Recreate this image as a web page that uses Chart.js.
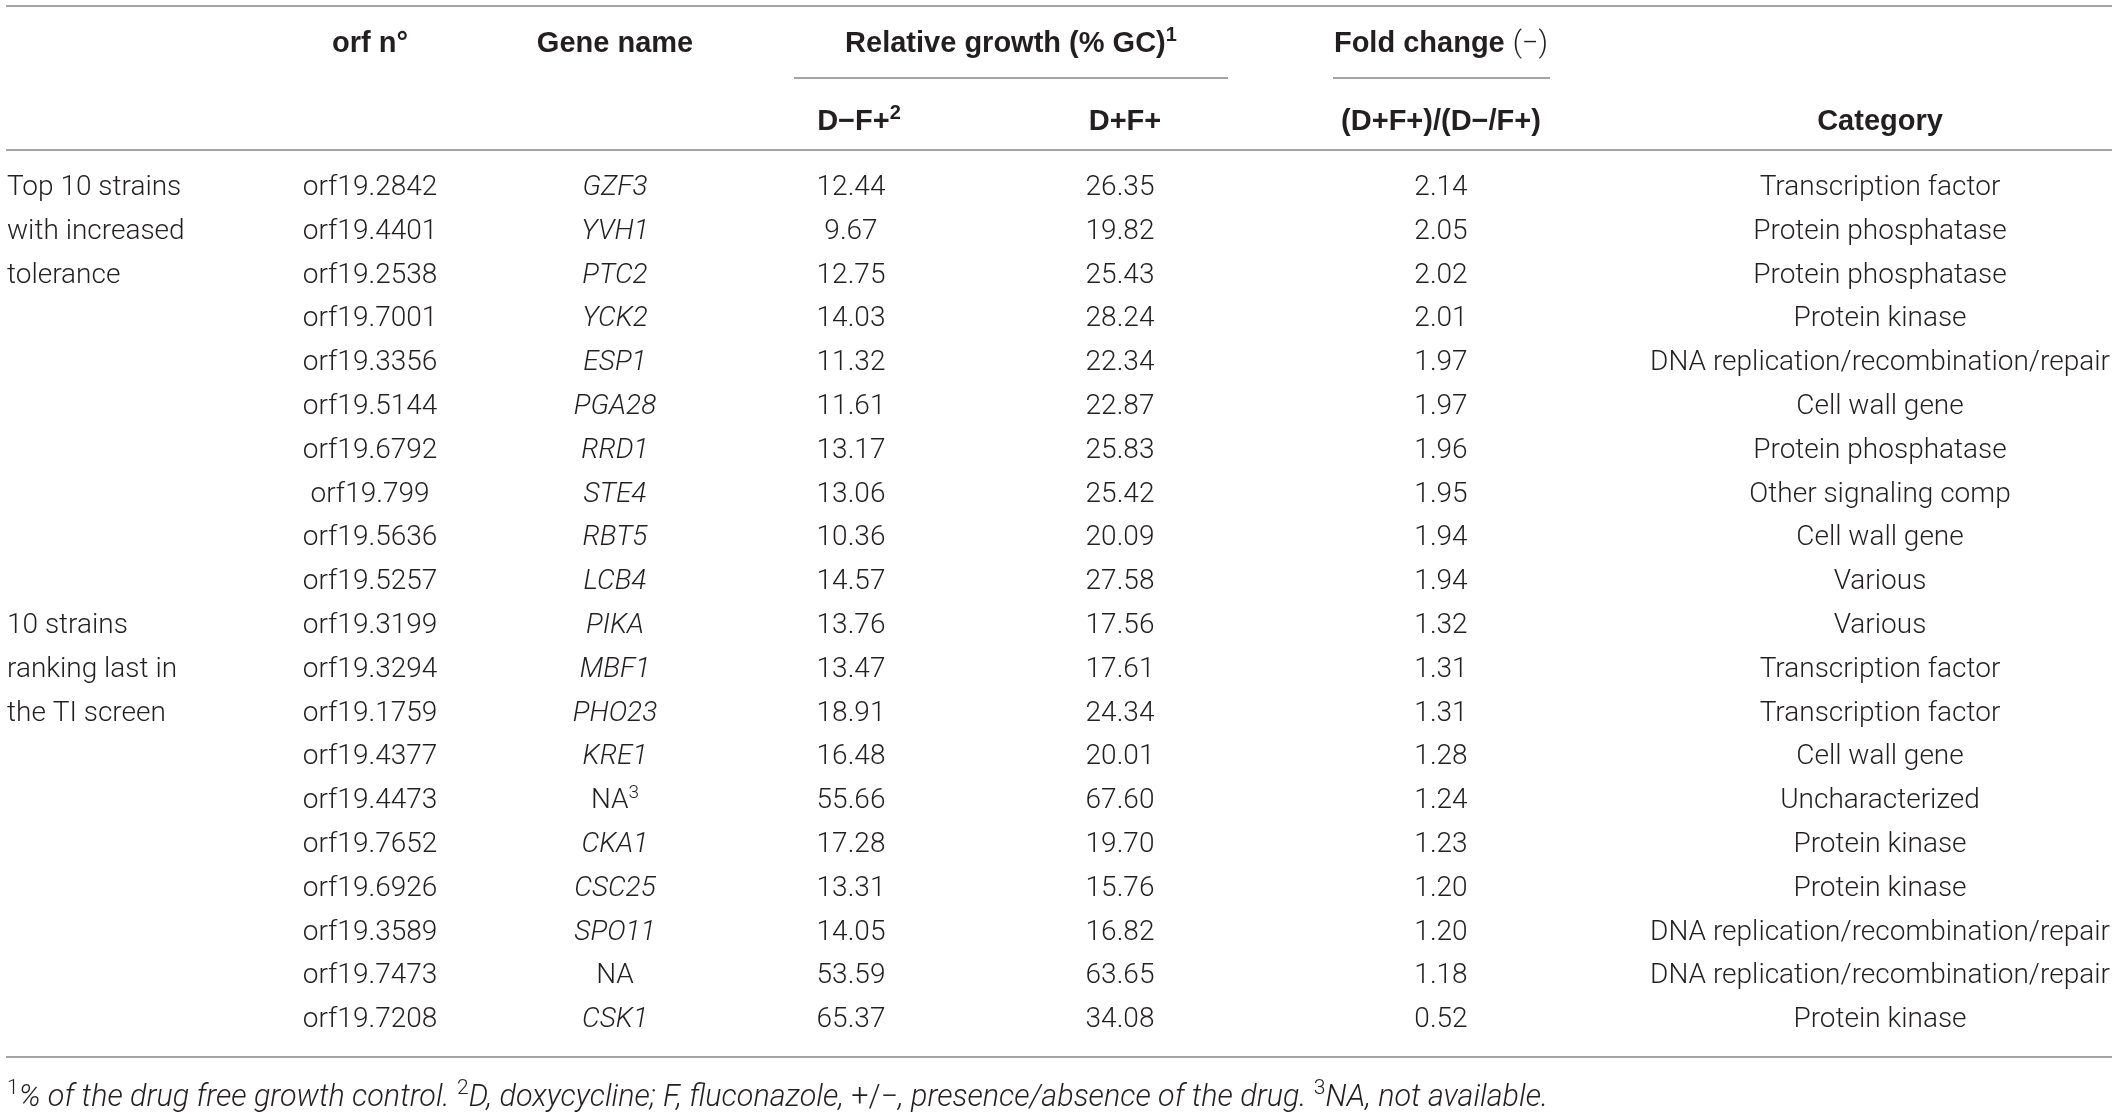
<!DOCTYPE html>
<html>
<head>
<meta charset="utf-8">
<script src="https://cdn.jsdelivr.net/npm/chart.js@4/dist/chart.umd.min.js"></script>
<style>
  html, body { margin: 0; padding: 0; background: #fff; }
  canvas { display: block; }
</style>
</head>
<body>
<canvas id="geneTable" width="2118" height="1112"></canvas>
<script>
// table values
const orfs = ['orf19.2842', 'orf19.4401', 'orf19.2538', 'orf19.7001', 'orf19.3356', 'orf19.5144', 'orf19.6792',
    'orf19.799', 'orf19.5636', 'orf19.5257', 'orf19.3199', 'orf19.3294', 'orf19.1759', 'orf19.4377', 'orf19.4473',
    'orf19.7652', 'orf19.6926', 'orf19.3589', 'orf19.7473', 'orf19.7208'];
const genes = ['GZF3', 'YVH1', 'PTC2', 'YCK2', 'ESP1', 'PGA28', 'RRD1', 'STE4', 'RBT5', 'LCB4',
    'PIKA', 'MBF1', 'PHO23', 'KRE1', 'NA', 'CKA1', 'CSC25', 'SPO11', 'NA', 'CSK1'];
const geneNotes = ['', '', '', '', '', '', '', '', '', '', '', '', '', '', '3', '', '', '', '', ''];
const growthDminusFplus = [12.44, 9.67, 12.75, 14.03, 11.32, 11.61, 13.17, 13.06, 10.36, 14.57,
    13.76, 13.47, 18.91, 16.48, 55.66, 17.28, 13.31, 14.05, 53.59, 65.37];
const growthDplusFplus = [26.35, 19.82, 25.43, 28.24, 22.34, 22.87, 25.83, 25.42, 20.09, 27.58,
    17.56, 17.61, 24.34, 20.01, 67.60, 19.70, 15.76, 16.82, 63.65, 34.08];
const foldChange = [2.14, 2.05, 2.02, 2.01, 1.97, 1.97, 1.96, 1.95, 1.94, 1.94,
    1.32, 1.31, 1.31, 1.28, 1.24, 1.23, 1.20, 1.20, 1.18, 0.52];
const categories = ['Transcription factor', 'Protein phosphatase', 'Protein phosphatase', 'Protein kinase',
    'DNA replication/recombination/repair', 'Cell wall gene', 'Protein phosphatase', 'Other signaling comp',
    'Cell wall gene', 'Various', 'Various', 'Transcription factor', 'Transcription factor', 'Cell wall gene',
    'Uncharacterized', 'Protein kinase', 'Protein kinase', 'DNA replication/recombination/repair',
    'DNA replication/recombination/repair', 'Protein kinase'];
const groupLabels = ['Top 10 strains', 'with increased', 'tolerance', '', '', '', '', '', '', '',
    '10 strains', 'ranking last in', 'the TI screen', '', '', '', '', '', '', ''];

// layout (x in canvas units, y in row units)
const COL_X = { group: 7, orf: 370, gene: 615, dmf: 851, dpf: 1120, fold: 1441, cat: 1880 };
const ROW_Y = { top: -4.094, head1: -3.265, sub: -2.443, head2: -1.484, headLine: -0.799, bottom: 19.91, note: 20.78 };
const LINE_X = { left: 6, right: 2112, growthL: 794, growthR: 1228, foldL: 1333, foldR: 1550 };
const BODY_FAMILY = 'Roboto, "Helvetica Neue", Arial, sans-serif';
const HEAD_FAMILY = '"Liberation Sans", Arial, sans-serif';
const FS = 28;      // body
const HS = 29;      // header
const NS = 30.5;    // footnote
const TEXT = '#231f20';
const RULE = '#a3a3a3';

const fLight = (s = FS) => `300 ${s}px ${BODY_FAMILY}`;
const fItalic = (s = FS) => `italic 300 ${s}px ${BODY_FAMILY}`;
const fBold = (s = HS) => `bold ${s}px ${HEAD_FAMILY}`;

function column(key, cells, align, fonts) {
    return {
        label: key,
        data: cells.map((_, i) => ({ x: COL_X[key], y: i })),
        cells: cells,
        align: align,
        fonts: fonts,
        pointRadius: 0,
        showLine: false,
    };
}

const geneCells = genes.map((g, i) => geneNotes[i] ? [{ t: g }, { t: geneNotes[i], sup: true }] : [{ t: g }]);

// draws a list of runs ({t, font, sup}) as one line, y is the visual middle of capitals
function drawRuns(ctx, runs, x, y, align, baseFont) {
    const baseSize = parseFloat(baseFont.match(/(\d+(\.\d+)?)px/)[1]);
    const baseline = y + baseSize * 0.357;
    let total = 0;
    const sized = runs.map(r => {
        const font = r.font || baseFont;
        const size = parseFloat(font.match(/(\d+(\.\d+)?)px/)[1]);
        const f = r.sup ? font.replace(/\d+(\.\d+)?px/, Math.round(size * 0.68) + 'px') : font;
        ctx.font = f;
        const w = ctx.measureText(r.t).width;
        total += w;
        return { t: r.t, f, w, dy: r.sup ? -size * 0.38 : 0 };
    });
    let cx = align === 'center' ? x - total / 2 : (align === 'right' ? x - total : x);
    ctx.textAlign = 'left';
    sized.forEach(s => {
        ctx.font = s.f;
        ctx.fillText(s.t, cx, baseline + s.dy);
        cx += s.w;
    });
}

const tablePlugin = {
    id: 'tableText',
    afterDatasetsDraw(chart) {
        const { ctx, scales: { x, y } } = chart;
        const py = v => y.getPixelForValue(v);
        const px = k => x.getPixelForValue(COL_X[k]);
        ctx.save();
        ctx.fillStyle = TEXT;
        ctx.textBaseline = 'alphabetic';

        // rules
        ctx.strokeStyle = RULE;
        ctx.lineWidth = 2;
        const hline = (x0, x1, row) => {
            const ly = Math.round(py(row));
            ctx.beginPath();
            ctx.moveTo(x.getPixelForValue(x0), ly);
            ctx.lineTo(x.getPixelForValue(x1), ly);
            ctx.stroke();
        };
        hline(LINE_X.left, LINE_X.right, ROW_Y.top);
        hline(LINE_X.growthL, LINE_X.growthR, ROW_Y.sub);
        hline(LINE_X.foldL, LINE_X.foldR, ROW_Y.sub);
        hline(LINE_X.left, LINE_X.right, ROW_Y.headLine);
        hline(LINE_X.left, LINE_X.right, ROW_Y.bottom);

        // header
        drawRuns(ctx, [{ t: 'orf n°' }], px('orf'), py(ROW_Y.head1), 'center', fBold());
        drawRuns(ctx, [{ t: 'Gene name' }], px('gene'), py(ROW_Y.head1), 'center', fBold());
        drawRuns(ctx, [{ t: 'Relative growth (% GC)' }, { t: '1', sup: true }],
            x.getPixelForValue((LINE_X.growthL + LINE_X.growthR) / 2), py(ROW_Y.head1), 'center', fBold());
        drawRuns(ctx, [{ t: 'Fold change ' }, { t: '(\u2212)', font: fLight(HS) }],
            px('fold'), py(ROW_Y.head1), 'center', fBold());
        drawRuns(ctx, [{ t: 'D\u2212F+' }, { t: '2', sup: true }], px('dmf') + 8, py(ROW_Y.head2), 'center', fBold());
        drawRuns(ctx, [{ t: 'D+F+' }], px('dpf') + 5, py(ROW_Y.head2), 'center', fBold());
        drawRuns(ctx, [{ t: '(D+F+)/(D\u2212/F+)' }], px('fold'), py(ROW_Y.head2), 'center', fBold());
        drawRuns(ctx, [{ t: 'Category' }], px('cat'), py(ROW_Y.head2), 'center', fBold());

        // body cells, placed by the scales
        chart.data.datasets.forEach((ds, d) => {
            const meta = chart.getDatasetMeta(d);
            meta.data.forEach((pt, i) => {
                const cell = ds.cells[i];
                if (cell === '' || cell == null) return;
                const runs = Array.isArray(cell) ? cell : [{ t: String(cell) }];
                const font = typeof ds.fonts === 'function' ? ds.fonts(i) : ds.fonts;
                drawRuns(ctx, runs, pt.x, pt.y, ds.align, font);
            });
        });

        // footnote
        drawRuns(ctx, [
            { t: '1', sup: true, font: fLight(NS) },
            { t: '% of the drug free growth control. ' },
            { t: '2', sup: true, font: fLight(NS) },
            { t: 'D, doxycycline; F, fluconazole, ' },
            { t: '+/\u2212', font: fLight(NS) },
            { t: ', presence/absence of the drug. ' },
            { t: '3', sup: true, font: fLight(NS) },
            { t: 'NA, not available.' },
        ], x.getPixelForValue(COL_X.group), py(ROW_Y.note), 'left', fItalic(NS));
        ctx.restore();
    }
};

new Chart(document.getElementById('geneTable'), {
    type: 'scatter',
    data: {
        datasets: [
            column('group', groupLabels, 'left', fLight()),
            column('orf', orfs, 'center', fLight()),
            column('gene', geneCells, 'center', i => genes[i] === 'NA' ? fLight() : fItalic()),
            column('dmf', growthDminusFplus.map(v => v.toFixed(2)), 'center', fLight()),
            column('dpf', growthDplusFplus.map(v => v.toFixed(2)), 'center', fLight()),
            column('fold', foldChange.map(v => v.toFixed(2)), 'center', fLight()),
            column('cat', categories, 'center', fLight()),
        ]
    },
    options: {
        responsive: false,
        animation: false,
        devicePixelRatio: 1,
        events: [],
        layout: { padding: 0 },
        plugins: {
            legend: { display: false },
            tooltip: { enabled: false },
        },
        scales: {
            x: { type: 'linear', display: false, min: 0, max: 2118 },
            y: { type: 'linear', display: false, reverse: true, min: -4.2237, max: 21.164 },
        },
    },
    plugins: [tablePlugin],
});
</script>
</body>
</html>
